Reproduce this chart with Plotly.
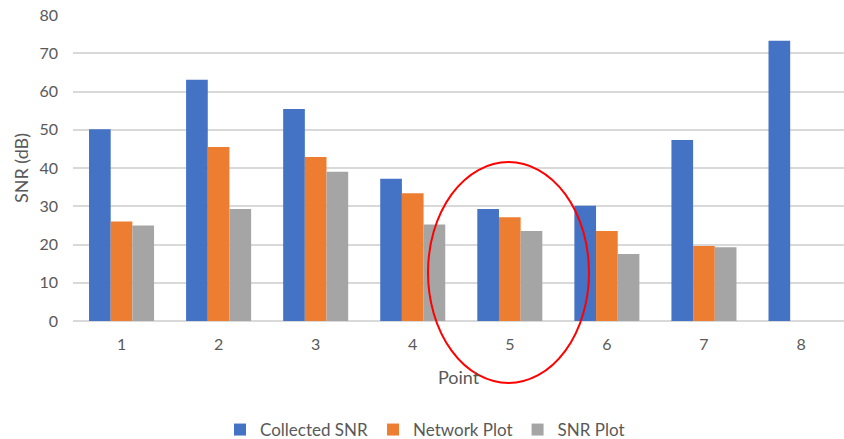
import plotly.graph_objects as go

# Measured signal-to-noise ratio per survey point
points = [1, 2, 3, 4, 5, 6, 7, 8]
point_labels = ["1", "2", "3", "4", "5", "6", "7", "8"]
collected_snr = [50.1, 63.1, 55.4, 37.2, 29.3, 30.1, 47.3, 73.3]
network_plot = [26.0, 45.5, 42.9, 33.4, 27.1, 23.5, 19.6, None]
snr_plot = [25.0, 29.3, 39.0, 25.2, 23.5, 17.5, 19.3, None]

series = [
    ("Collected SNR", collected_snr, "#4472C4"),
    ("Network Plot", network_plot, "#ED7D31"),
    ("SNR Plot", snr_plot, "#A5A5A5"),
]

text_color = "#595959"
font_family = "Lato, 'Liberation Sans', sans-serif"

fig = go.Figure()
for name, values, color in series:
    fig.add_trace(go.Bar(
        x=points, y=values, name=name,
        marker=dict(color=color, line=dict(width=0)),
    ))

# Plot area geometry (pixels) for the highlight ellipse in paper coordinates
W, H = 844, 439
ml, mr, mt, mb = 73, 0, 15, 118
pw, ph = W - ml - mr, H - mt - mb


def px_x(p):
    return (p - ml) / pw


def px_y(p):
    return (H - mb - p) / ph


fig.add_shape(
    type="circle", xref="paper", yref="paper",
    x0=px_x(428), x1=px_x(589), y0=px_y(383), y1=px_y(162),
    line=dict(color="#FF0000", width=2), fillcolor="rgba(0,0,0,0)",
    layer="above",
)

fig.update_layout(
    width=W, height=H,
    margin=dict(l=ml, r=mr, t=mt, b=mb, autoexpand=False),
    paper_bgcolor="white", plot_bgcolor="white",
    barmode="group", bargap=0.33, bargroupgap=0,
    font=dict(family=font_family, color=text_color, size=16),
    xaxis=dict(
        range=[0.5, 0.5 + pw / 97.07],
        tickmode="array", tickvals=points, ticktext=point_labels,
        showgrid=False, showline=False, zeroline=False, ticks="",
        ticklabelstandoff=12,
        tickfont=dict(size=16, color=text_color),
        title=dict(text="Point", font=dict(size=18, color=text_color), standoff=19),
    ),
    yaxis=dict(
        range=[0, 80], dtick=10, tick0=0,
        showgrid=True, gridcolor="#D9D9D9", gridwidth=1.5,
        zeroline=True, zerolinecolor="#D9D9D9", zerolinewidth=1.5,
        showline=False, ticks="", ticklabelstandoff=14,
        tickfont=dict(size=16, color=text_color),
        title=dict(text="SNR (dB)", font=dict(size=18, color=text_color), standoff=6),
    ),
    legend=dict(
        orientation="h", xanchor="center", x=px_x(425), yanchor="middle", y=px_y(430),
        font=dict(size=17, color=text_color), itemwidth=30,
        traceorder="normal",
    ),
)

fig.write_html("out.html")
